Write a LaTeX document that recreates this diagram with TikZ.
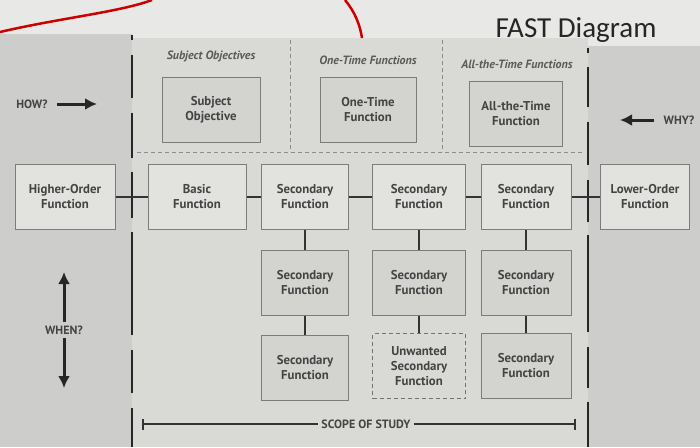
\documentclass[tikz,border=0pt]{standalone}
\usepackage{fontspec}
\setmainfont{PT Sans}
\newfontfamily\titlefont{Carlito}
\usetikzlibrary{arrows.meta}

\definecolor{topwhite}{HTML}{E8E8E6}
\definecolor{sidegray}{HTML}{CDCDCB}
\definecolor{midgray}{HTML}{D9D9D5}
\definecolor{boxlight}{HTML}{E2E2DF}
\definecolor{boxdark}{HTML}{D3D3D0}
\definecolor{boxline}{HTML}{7C7C7A}
\definecolor{inkgray}{HTML}{444444}
\definecolor{headgray}{HTML}{5A5A5A}

\tikzset{
  fbox/.style={draw=boxline, line width=1pt, align=center, text=inkgray,
    minimum height=65pt, font=\bfseries\fontsize{12.8}{15}\selectfont},
  link/.style={draw=black!80, line width=1.6pt},
  bound/.style={draw=black!85, line width=2.6pt},
  sep/.style={draw=black!45, line width=0.8pt, dash pattern=on 4pt off 3pt},
  head/.style={text=headgray, font=\bfseries\itshape\fontsize{12}{14}\selectfont},
  cue/.style={text=inkgray, font=\bfseries\fontsize{12}{14}\selectfont},
  cuearrow/.style={draw=black!85, line width=3pt, -{Latex[length=12pt,width=12pt]}}
}

\begin{document}
\begin{tikzpicture}[x=1pt,y=-1pt]
\useasboundingbox (0,0) rectangle (700,447);

% slide background
\fill[topwhite] (0,0) rectangle (700,447);
\fill[sidegray] (0,34) rectangle (132,447);
\fill[midgray] (132,38) rectangle (588,447);
\fill[sidegray] (588,46) rectangle (700,447);

% red pen marks
\draw[red!80!black, line width=2.5pt] (0,32) .. controls (60,18) and (120,12) .. (152,0);
\draw[red!80!black, line width=2.5pt] (345,0) .. controls (355,12) and (360,25) .. (362,38);

\node[font=\titlefont\fontsize{29}{32}\selectfont, text=black!85] (title) at (576,30) {FAST Diagram};

% scope boundaries
\foreach \a/\b in {35/40, 55/98, 113/158, 172/218, 232/335, 350/393, 408/447}
  \draw[bound] (132,\a) -- (132,\b);
\foreach \a/\b in {48/53, 67/107, 122/165, 180/222, 235/332, 347/388, 402/447}
  \draw[bound] (588,\a) -- (588,\b);

\draw[sep] (290,40) -- (290,152);
\draw[sep] (442,40) -- (442,152);
\draw[sep] (137,152) -- (585,152);

% column headings
\node[head] (hso) at (211,56) {Subject Objectives};
\node[head] (hot) at (368,60) {One-Time Functions};
\node[head] (hat) at (517,64) {All-the-Time Functions};

% objectives
\node[fbox, fill=boxdark, minimum width=98pt] (so) at (211,110) {Subject\\Objective};
\node[fbox, fill=boxdark, minimum width=96pt] (otf) at (368,110) {One-Time\\Function};
\node[fbox, fill=boxdark, minimum width=93pt] (atf) at (516,114) {All-the-Time\\Function};

% critical path
\node[fbox, fill=boxlight, minimum width=100pt] (hof) at (65,197) {Higher-Order\\Function};
\node[fbox, fill=boxlight, minimum width=98pt] (basic) at (197,197) {Basic\\Function};
\node[fbox, fill=boxlight, minimum width=87pt] (s11) at (305,197) {Secondary\\Function};
\node[fbox, fill=boxlight, minimum width=93pt] (s12) at (419,197) {Secondary\\Function};
\node[fbox, fill=boxlight, minimum width=90pt] (s13) at (526,197) {Secondary\\Function};
\node[fbox, fill=boxlight, minimum width=89pt] (lof) at (645,197) {Lower-Order\\Function};

\node[fbox, fill=boxdark, minimum width=87pt] (s21) at (305,283) {Secondary\\Function};
\node[fbox, fill=boxdark, minimum width=93pt] (s22) at (419,283) {Secondary\\Function};
\node[fbox, fill=boxdark, minimum width=90pt] (s23) at (526,283) {Secondary\\Function};

\node[fbox, fill=boxdark, minimum width=87pt] (s31) at (305,368) {Secondary\\Function};
\node[fbox, draw=black!55, dash pattern=on 4pt off 3pt, minimum width=93pt] (s32) at (419,366) {Unwanted\\Secondary\\Function};
\node[fbox, fill=boxdark, minimum width=90pt] (s33) at (526,366) {Secondary\\Function};

\draw[link] (hof.east) -- (basic.west);
\draw[link] (basic.east) -- (s11.west);
\draw[link] (s11.east) -- (s12.west);
\draw[link] (s12.east) -- (s13.west);
\draw[link] (s13.east) -- (lof.west);
\draw[link] (s11.south) -- (s21.north);
\draw[link] (s12.south) -- (s22.north);
\draw[link] (s13.south) -- (s23.north);
\draw[link] (s21.south) -- (s31.north);
\draw[link] (s22.south) -- (s32.north);
\draw[link] (s23.south) -- (s33.north);

% direction cues
\node[cue] (how) at (32,104) {HOW?};
\coordinate (howend) at (97,104);
\draw[cuearrow] (how.east) ++(6,0) -- (howend);

\node[cue] (why) at (679,120) {WHY?};
\coordinate (whyend) at (620,120);
\draw[cuearrow] (why.west) ++(-6,0) -- (whyend);

\node[cue] (when) at (64,330) {WHEN?};
\coordinate (whenup) at (64,272);
\coordinate (whendown) at (64,388);
\draw[cuearrow] (when.north) -- (whenup);
\draw[cuearrow] (when.south) -- (whendown);

% scope of study
\node[cue] (scope) at (366,424) {SCOPE OF STUDY};
\coordinate (scopeL) at (142,424);
\coordinate (scopeR) at (576,424);
\draw[link, {Bar[width=11pt]}-] (scopeL) -- (scope.west);
\draw[link, -{Bar[width=11pt]}] (scope.east) -- (scopeR);
\end{tikzpicture}
\end{document}
